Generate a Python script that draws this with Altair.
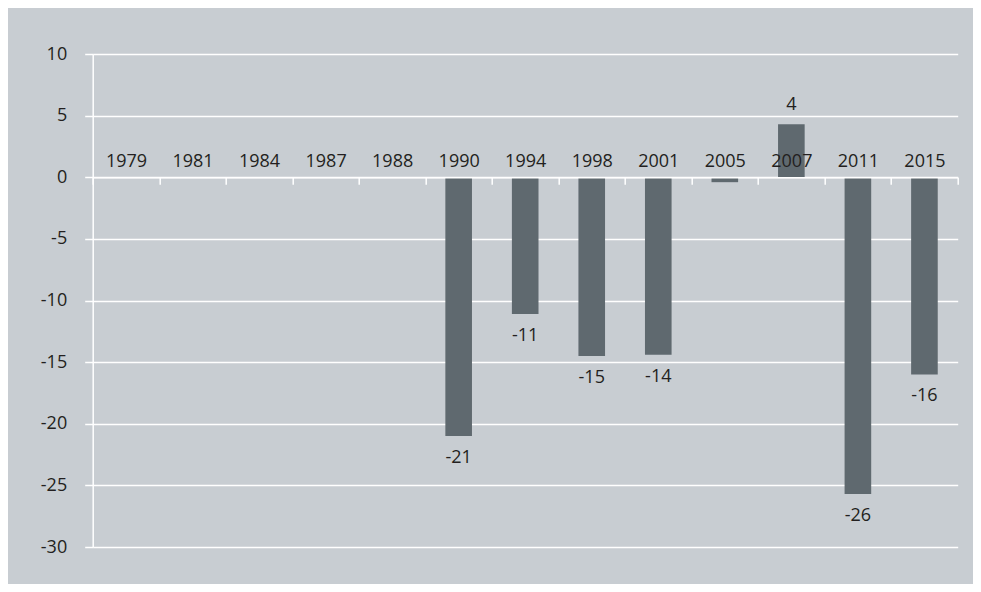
import altair as alt
import pandas as pd

years = ["1979", "1981", "1984", "1987", "1988", "1990", "1994", "1998",
         "2001", "2005", "2007", "2011", "2015"]
values = [None, None, None, None, None, -21.0, -11.1, -14.5, -14.4, -0.4, 4.3, -25.7, -16.0]
labels = [None, None, None, None, None, "-21", "-11", "-15", "-14", None, "4", "-26", "-16"]
y_ticks = [-30, -25, -20, -15, -10, -5, 0, 5, 10]

df = pd.DataFrame({"year": years, "v": values, "lab": labels})

FONT = "Open Sans"
TXT = "#231f20"
W, H = 865, 493
y_dom = [-30, 10]
zero_px = H * (y_dom[1] - 0) / (y_dom[1] - y_dom[0])

x_enc = alt.X("year:N", sort=years,
              scale=alt.Scale(domain=years, paddingInner=0, paddingOuter=0),
              axis=alt.Axis(orient="bottom", offset=-(H - zero_px), title=None,
                            labelAngle=0, labelFontSize=18, labelFont=FONT,
                            labelColor=TXT, labelBaseline="alphabetic",
                            labelPadding=-18, tickBand="extent",
                            tickColor="white", tickSize=7, tickWidth=1.5,
                            domainColor="white", domainWidth=1.5, grid=False,
                            zindex=1))
y_enc = alt.Y("v:Q", scale=alt.Scale(domain=y_dom, nice=False, zero=False),
              axis=alt.Axis(values=y_ticks, title=None, labelFontSize=18,
                            labelFont=FONT, labelColor=TXT, labelPadding=18,
                            labelExpr="toString(datum.value)",
                            tickColor="white", tickSize=8, tickWidth=1.5,
                            domainColor="white", domainWidth=1.5,
                            gridColor="white", gridWidth=1.5))

bars = alt.Chart(df).mark_bar(color="#5f696f", width=alt.RelativeBandSize(0.4)).encode(
    x=x_enc, y=y_enc)

neg = alt.Chart(df).transform_filter("datum.lab != null && datum.v < 0").mark_text(
    font=FONT, fontSize=18, color=TXT, baseline="middle", dy=22).encode(
    x=alt.X("year:N", sort=years), y=alt.Y("v:Q"), text="lab:N")
pos = alt.Chart(df).transform_filter("datum.lab != null && datum.v > 0").mark_text(
    font=FONT, fontSize=18, color=TXT, baseline="middle", dy=-19).encode(
    x=alt.X("year:N", sort=years), y=alt.Y("v:Q"), text="lab:N")

chart = alt.layer(bars, neg, pos).properties(
    width=W, height=H,
    autosize=alt.AutoSizeParams(type="none"),
    padding={"left": 84.7, "top": 46, "right": 15.3, "bottom": 37},
    background="#c8cdd2",
).configure_view(stroke=None)

chart.save("out.html", embed_options={"renderer": "svg", "actions": False})
